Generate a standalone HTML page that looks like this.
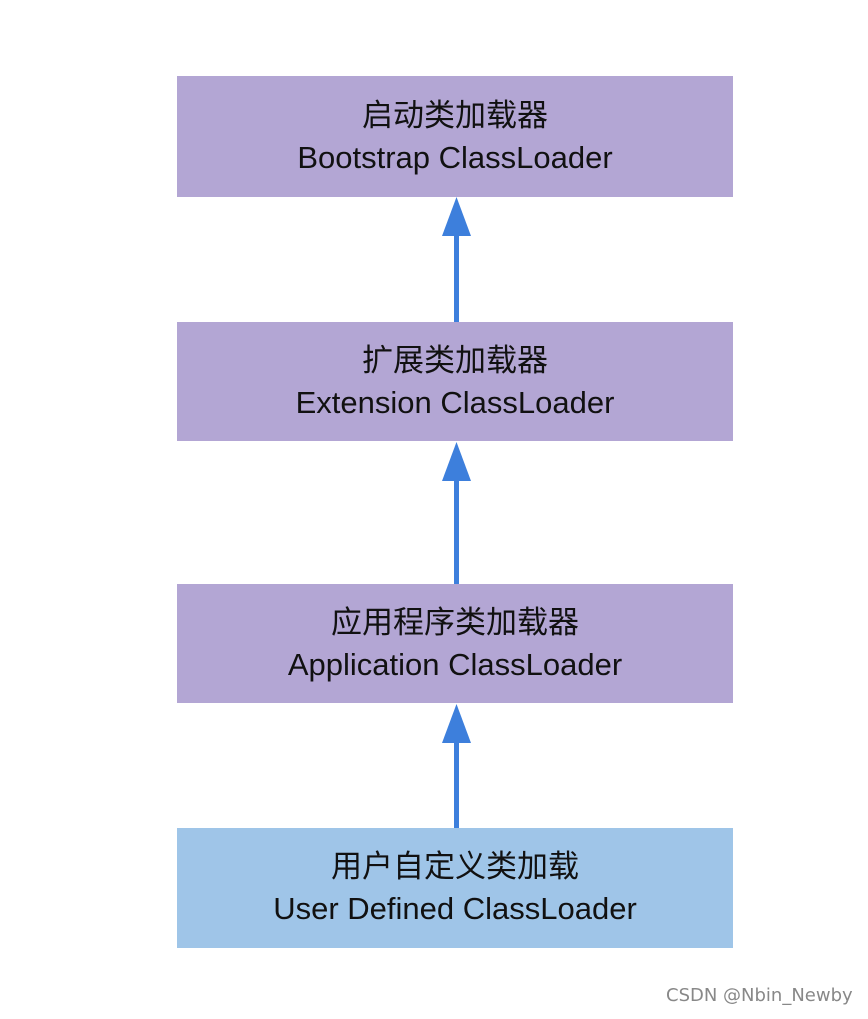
<!DOCTYPE html>
<html><head><meta charset="utf-8"><style>
body{margin:0;width:868px;height:1019px;background:#fff;position:relative;overflow:hidden;font-family:"Liberation Sans","Noto Sans CJK SC",sans-serif}
.b{position:absolute;left:177px;width:556px;background:#b3a6d4;color:#111;text-align:center;font-size:31px;line-height:42px;display:flex;flex-direction:column;justify-content:center}
.u{background:#9fc5e8}
svg{position:absolute;left:0;top:0}
.w{position:absolute;left:666px;top:985px;font-size:18px;color:#888;font-family:"DejaVu Sans","Noto Sans CJK SC",sans-serif}
</style></head><body>
<div class="b" style="top:76px;height:121px"><div>启动类加载器</div><div>Bootstrap ClassLoader</div></div>
<div class="b" style="top:322px;height:119px"><div>扩展类加载器</div><div>Extension ClassLoader</div></div>
<div class="b" style="top:584px;height:119px"><div>应用程序类加载器</div><div>Application ClassLoader</div></div>
<div class="b u" style="top:828px;height:120px"><div>用户自定义类加载</div><div>User Defined ClassLoader</div></div>
<svg width="868" height="1019">
<g fill="#3d7fdc">
<rect x="454" y="230" width="5" height="92"/><polygon points="456.5,197 442,236 471,236"/>
<rect x="454" y="475" width="5" height="109"/><polygon points="456.5,442 442,481 471,481"/>
<rect x="454" y="737" width="5" height="91"/><polygon points="456.5,704 442,743 471,743"/>
</g></svg>
<div class="w">CSDN @Nbin_Newby</div>
</body></html>
